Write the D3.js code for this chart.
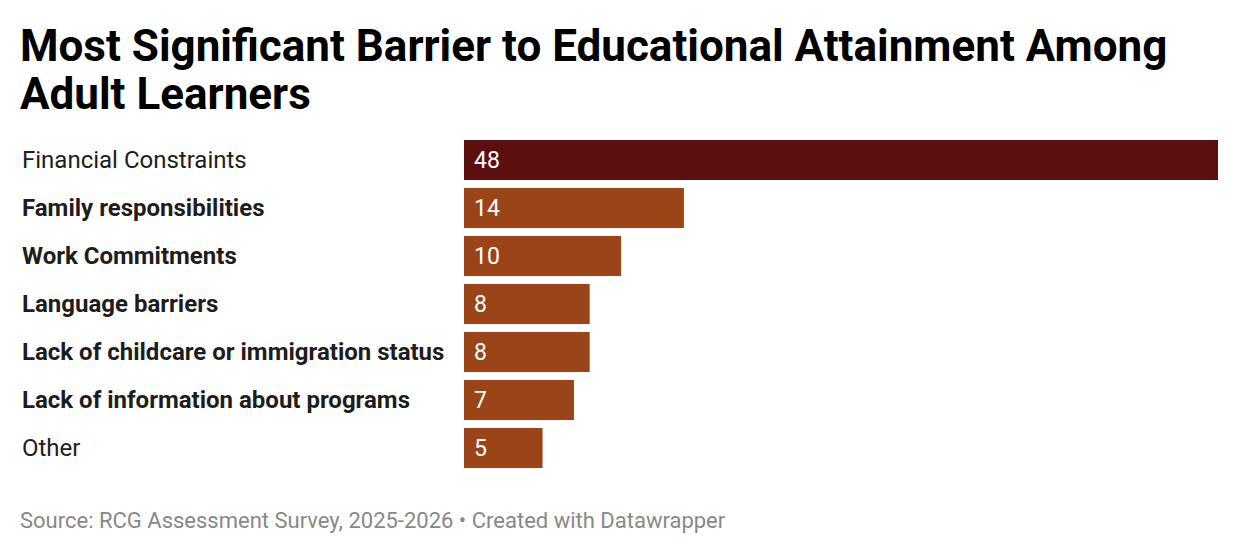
<!DOCTYPE html>
<html>
<head>
<meta charset="utf-8">
<script src="https://cdn.jsdelivr.net/npm/d3@7"></script>
<style>
  body { margin: 0; background: #fff; }
  svg { font-family: Roboto, sans-serif; }
</style>
</head>
<body>
<svg id="chart" width="1240" height="554"></svg>
<script>
var categories = [
  "Financial Constraints",
  "Family responsibilities",
  "Work Commitments",
  "Language barriers",
  "Lack of childcare or immigration status",
  "Lack of information about programs",
  "Other"
];
var values = [48, 14, 10, 8, 8, 7, 5];
var boldLabels = [false, true, true, true, true, true, false];
var titleLines = ["Most Significant Barrier to Educational Attainment Among", "Adult Learners"];
var sourceText = "Source: RCG Assessment Survey, 2025-2026 \u2022 Created with Datawrapper";

var svg = d3.select("#chart"),
  width = +svg.attr("width"),
  height = +svg.attr("height");

// title
svg.append("g")
  .selectAll("text")
  .data(titleLines)
  .join("text")
  .attr("x", 20)
  .attr("y", function (d, i) { return 61 + i * 48; })
  .attr("font-size", 44)
  .attr("font-weight", 700)
  .attr("fill", "#000")
  .text(function (d) { return d; });

// scales: 40px bars, 8px gaps
var x = d3.scaleLinear().domain([0, 48]).range([464, 1218]);
var y = d3.scaleBand()
  .domain(categories)
  .range([140, 140 + 48 * categories.length - 8])
  .paddingInner(8 / 48)
  .paddingOuter(0);

var rows = svg.append("g")
  .selectAll("g")
  .data(categories)
  .join("g");

rows.append("rect")
  .attr("x", x(0))
  .attr("y", function (d) { return y(d); })
  .attr("width", function (d, i) { return x(values[i]) - x(0); })
  .attr("height", y.bandwidth())
  .attr("fill", function (d, i) { return i === 0 ? "#5b0f0f" : "#9a4418"; });

rows.append("text")
  .attr("x", 22)
  .attr("y", function (d) { return y(d) + 27.5; })
  .attr("font-size", 24)
  .attr("font-weight", function (d, i) { return boldLabels[i] ? 700 : 400; })
  .attr("fill", "#1d1d1d")
  .text(function (d) { return d; });

rows.append("text")
  .attr("x", x(0) + 10)
  .attr("y", function (d) { return y(d) + 27.5; })
  .attr("font-size", 23)
  .attr("fill", "#fff")
  .text(function (d, i) { return values[i]; });

// footer
svg.append("text")
  .attr("x", 20)
  .attr("y", 528)
  .attr("font-size", 22)
  .attr("fill", "#888")
  .text(sourceText);
</script>
</body>
</html>
